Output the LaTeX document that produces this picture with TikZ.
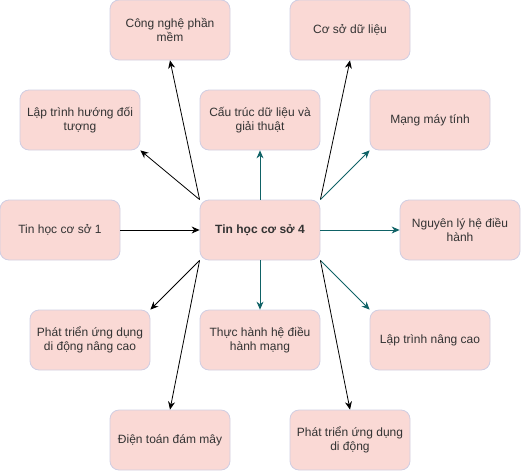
\documentclass[tikz,border=0pt]{standalone}
\usepackage{fontspec}
\setmainfont{Liberation Sans}
\usetikzlibrary{arrows.meta}
\definecolor{boxfill}{HTML}{FAD9D5}
\definecolor{boxline}{HTML}{D0CEE2}
\definecolor{tealc}{HTML}{0F6266}
\definecolor{txt}{HTML}{333333}
\begin{document}
\begin{tikzpicture}[x=1pt,y=-1pt,
  box/.style={draw=boxline,fill=boxfill,rounded corners=9pt,minimum width=120pt,minimum height=60pt,
    inner sep=0pt,align=center,font=\fontsize{12}{13.5}\selectfont,text=txt,line width=0.8pt},
  blk/.style={-{Stealth[length=8pt,width=7pt]},line width=0.8pt,black},
  tl/.style={-{Stealth[length=8pt,width=7pt]},line width=0.8pt,tealc}]
\useasboundingbox (0,0) rectangle (521,471);
\node[box] (cnpm) at (170,30) {Công nghệ phần\\mềm};
\node[box] (csdl) at (350,30) {Cơ sở dữ liệu};
\node[box] (lthdt) at (80,120) {Lập trình hướng đối\\tượng};
\node[box] (ctdl) at (260,120) {Cấu trúc dữ liệu và\\giải thuật};
\node[box] (mmt) at (430,120) {Mạng máy tính};
\node[box] (th1) at (60,230) {Tin học cơ sở 1};
\node[box,font=\fontsize{12}{13.5}\selectfont\bfseries] (th4) at (260,230) {Tin học cơ sở 4};
\node[box] (nlhdh) at (460,230) {Nguyên lý hệ điều\\hành};
\node[box] (ptnc) at (90,340) {Phát triển ứng dụng\\di động nâng cao};
\node[box] (thhdh) at (260,340) {Thực hành hệ điều\\hành mạng};
\node[box] (ltnc) at (430,340) {Lập trình nâng cao};
\node[box] (dtdm) at (170,440) {Điện toán đám mây};
\node[box] (ptud) at (350,440) {Phát triển ứng dụng\\di động};
\draw[blk] (th1.east) -- (th4.west);
\draw[blk] (th4.north west) -- (lthdt.south east);
\draw[blk] (th4.north west) -- (cnpm.south);
\draw[tl] (th4.north) -- (ctdl.south);
\draw[blk] (th4.north east) -- (csdl.south);
\draw[tl] (th4.north east) -- (mmt.south west);
\draw[tl] (th4.east) -- (nlhdh.west);
\draw[blk] (th4.south west) -- (ptnc.north east);
\draw[blk] (th4.south west) -- (dtdm.north);
\draw[tl] (th4.south) -- (thhdh.north);
\draw[tl] (th4.south east) -- (ltnc.north west);
\draw[blk] (th4.south east) -- (ptud.north);
\end{tikzpicture}
\end{document}
